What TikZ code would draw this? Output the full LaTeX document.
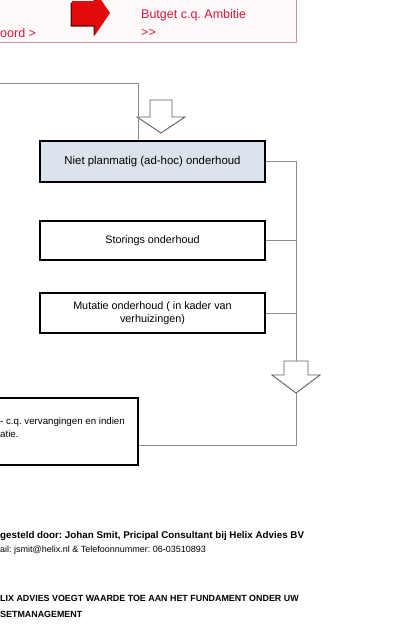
\documentclass[tikz,border=0pt]{standalone}
\usepackage{fontspec}
\setmainfont{Liberation Sans}
\usetikzlibrary{calc}
\frenchspacing
\definecolor{redtxt}{HTML}{D8163C}
\definecolor{boxpink}{HTML}{C8909A}
\definecolor{boxfill}{HTML}{FFFAFA}
\definecolor{arrowred}{HTML}{E20A0A}
\definecolor{arrowdark}{HTML}{6A0808}
\definecolor{bluefill}{HTML}{DCE3ED}
\definecolor{linegray}{HTML}{8C8C8C}
\definecolor{arrowgray}{HTML}{5E5E5E}
\begin{document}
\begin{tikzpicture}[x=1pt,y=-1pt,
  box/.style={draw=black, line width=1.3pt, minimum width=225pt, inner sep=2pt, align=center, font=\fontsize{10.8}{13}\selectfont},
  plainbox/.style={draw=black, line width=1.3pt, inner sep=0pt},
  conn/.style={draw=linegray, line width=0.9pt},
  hollow/.style={draw=arrowgray, fill=white, line width=0.9pt, line join=miter},
  redt/.style={text=redtxt, font=\fontsize{12.5}{15}\selectfont, inner sep=0pt, anchor=west},
  foot/.style={inner sep=0pt, anchor=west}]
\useasboundingbox (0,0) rectangle (392,629);
\clip (0,0) rectangle (392,629);
\fill[white] (0,0) rectangle (392,629);

% top red box
\node[draw=boxpink, fill=boxfill, line width=0.8pt, minimum width=306pt, minimum height=50pt, inner sep=0pt] (topbox) at (143.5,17) {};
% red block arrow with dark shadow
\fill[arrowdark] (70.5,2.5) -- (93.5,2.5) -- (93.5,-7.5) -- (108.5,14.5) -- (93.5,36.5) -- (93.5,26.5) -- (70.5,26.5) -- cycle;
\fill[arrowred] (72,1) -- (95,1) -- (95,-9) -- (110,13) -- (95,35) -- (95,25) -- (72,25) -- cycle;
\node[redt] (t0) at (0,33) {oord >};
\node[redt] (t1) at (141,15) {Butget c.q. Ambitie};
\node[redt] (t2) at (141,33) {>{}>};

% first hollow arrow
\draw[hollow] (150,100) -- (172,100) -- (172,117) -- (185,117) -- (161,133) -- (137,117) -- (150,117) -- cycle;

% boxes
\node[box, fill=bluefill, minimum height=41pt, font=\fontsize{11.4}{13}\selectfont] (blue) at (152.5,161.5) {Niet planmatig (ad-hoc) onderhoud};
\node[box, fill=white, minimum height=39pt] (stor) at (152.5,240.5) {Storings onderhoud};
\node[box, fill=white, minimum height=40pt] (mut) at (152.5,313) {Mutatie onderhoud ( in kader van\\verhuizingen)};

% connector from top left into blue box
\coordinate (tl) at (0,83);
\coordinate (bx) at (138,0);
\draw[conn] (tl) -| (blue.north -| bx);

% second hollow arrow
\coordinate (a2top) at (296,361);
\coordinate (a2tip) at (296,393);
\draw[hollow] (284,361) -- (308,361) -- (308,375) -- (320,375) -- (296,393) -- (272,375) -- (284,375) -- cycle;

% bus on the right
\draw[conn] (blue.east) -| (a2top);
\draw[conn] (stor.east) -- (stor.east -| a2top);
\draw[conn] (mut.east) -- (mut.east -| a2top);

% bottom-left box
\node[plainbox, fill=white, minimum width=150pt, minimum height=67pt] (bl) at (63,431.5) {};
\node[anchor=north west, inner sep=0pt, align=left, font=\fontsize{9.7}{13.5}\selectfont] (bltext) at (0,417) {- c.q. vervangingen en indien\\atie.};
\draw[conn] (a2tip) |- ($(bl.east)+(0,13.5)$);

% footer
\node[foot, font=\bfseries\fontsize{9.8}{11}\selectfont] (f1) at (0,536) {gesteld door: Johan Smit, Pricipal Consultant bij Helix Advies BV};
\node[foot, font=\fontsize{9}{11}\selectfont] (f2) at (0,550) {ail: jsmit@helix.nl \& Telefoonnummer: 06-03510893};
\node[foot, font=\bfseries\fontsize{8.9}{11}\selectfont] (f3) at (0,598) {LIX ADVIES VOEGT WAARDE TOE AAN HET FUNDAMENT ONDER UW};
\node[foot, font=\bfseries\fontsize{8.9}{11}\selectfont] (f4) at (0,614) {SETMANAGEMENT};
\end{tikzpicture}
\end{document}
